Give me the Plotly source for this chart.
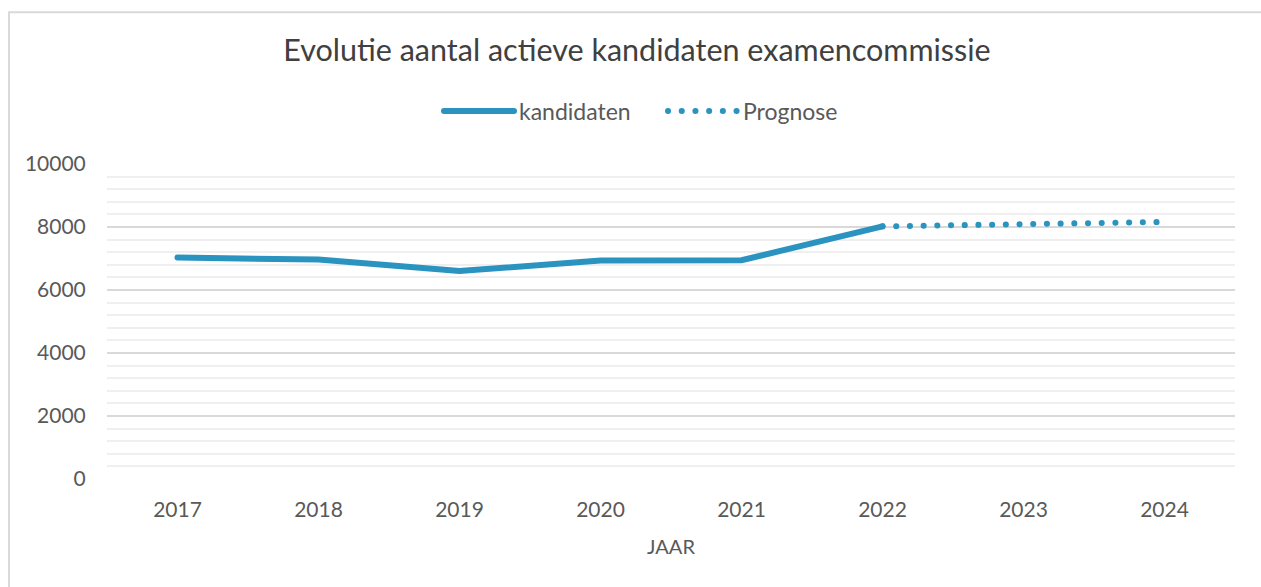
import plotly.graph_objects as go

years = ["2017", "2018", "2019", "2020", "2021", "2022", "2023", "2024"]
kandidaten = [7030, 6965, 6600, 6940, 6945, 8020, None, None]
prognose = [None, None, None, None, None, 8020, 8090, 8160]

blue = "#2b93bf"
font_family = "Lato, 'Open Sans', sans-serif"

fig = go.Figure()
fig.add_trace(go.Scatter(x=years, y=kandidaten, name="kandidaten", mode="lines",
                         line=dict(color=blue, width=6)))
fig.add_trace(go.Scatter(x=years, y=prognose, name="Prognose", mode="lines",
                         line=dict(color=blue, width=6, dash="0.1px,13.6px")))

L, R, T, B = 107, 1235, 163.7, 478.7
W, H = 1261, 587

fig.update_layout(
    width=W, height=H,
    margin=dict(l=L, r=W - R, t=T, b=H - B, autoexpand=False),
    paper_bgcolor="white", plot_bgcolor="white",
    font=dict(family=font_family, color="#595959", size=21),
    title=dict(text="Evolutie aantal actieve kandidaten examencommissie",
               x=637 / W, xanchor="center", xref="container",
               y=1 - 50 / H, yanchor="middle", yref="container",
               font=dict(size=30.5, color="#404040")),
    legend=dict(orientation="h", xref="container", yref="container",
                x=(443 - 4) / W, xanchor="left", y=1 - 111 / H, yanchor="middle",
                font=dict(size=23, color="#595959"), itemwidth=70,
                entrywidth=139,
                bgcolor="rgba(0,0,0,0)"),
    showlegend=True,
    xaxis=dict(type="category", range=[-0.5, 7.5], showgrid=False, zeroline=False,
               showline=False, ticks="outside", ticklen=12, tickcolor="rgba(0,0,0,0)",
               tickfont=dict(size=21),
               title=dict(text="JAAR", font=dict(size=20), standoff=19)),
    yaxis=dict(range=[0, 10000], dtick=2000, tick0=0, tickformat="d",
               showline=False, zeroline=False,
               gridcolor="#d9d9d9", gridwidth=1.5,
               ticks="outside", ticklen=16, tickcolor="rgba(0,0,0,0)",
               tickfont=dict(size=21),
               minor=dict(dtick=400, tick0=0, showgrid=True, gridcolor="#efefef",
                          gridwidth=1.5)),
    shapes=[dict(type="rect", xref="paper", yref="paper",
                 x0=(9 - L) / (R - L), x1=(W + 20 - L) / (R - L),
                 y0=(B - (H + 20)) / (B - T), y1=(B - 12) / (B - T),
                 line=dict(color="#d9d9d9", width=2), fillcolor="rgba(0,0,0,0)",
                 layer="below")],
)

post = """
document.body.style.margin = '0';
function fixCaps(){
  document.querySelectorAll('.scatterlayer path.js-line, .legend path.js-line').forEach(function(p){
    p.style.strokeLinecap = 'round';
  });
}
fixCaps();
var gd = document.getElementById('{plot_id}');
if (gd && gd.on) { gd.on('plotly_afterplot', fixCaps); }
setTimeout(fixCaps, 50);
"""

fig.write_html("out.html", post_script=post, config={"displayModeBar": False})
